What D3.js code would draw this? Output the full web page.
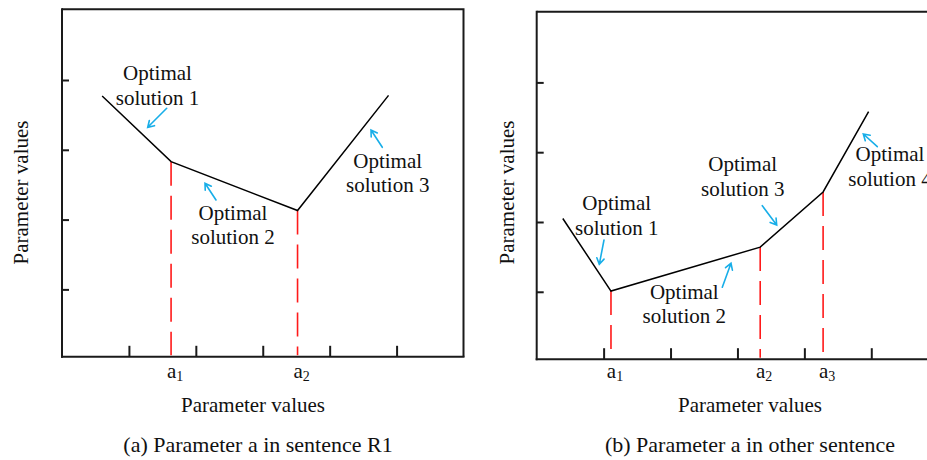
<!DOCTYPE html>
<html>
<head>
<meta charset="utf-8">
<script src="https://cdn.jsdelivr.net/npm/d3@7"></script>
<style>
  html, body { margin: 0; padding: 0; background: #fff; }
  svg { display: block; }
</style>
</head>
<body>
<svg id="chart" width="927" height="460"></svg>
<script>
// ---------------- DATA ----------------
const xTicks = [1, 2, 3, 4, 5];
const yTicks = [1, 2, 3, 4];

// Panel (a): Parameter a in sentence R1
const lineA_x = [0.60, 1.63, 3.52, 4.88];
const lineA_y = [3.77, 2.83, 2.13, 3.78];
const breaksA_x = [1.63, 3.52];
const breaksA_y = [2.83, 2.13];
const breaksA_label = ["1", "2"];
const notesA = ["Optimal solution 1", "Optimal solution 2", "Optimal solution 3"];

// Panel (b): Parameter a in other sentence
const lineB_x = [0.39, 1.11, 3.34, 4.28, 4.96];
const lineB_y = [2.05, 1.01, 1.64, 2.43, 3.58];
const breaksB_x = [1.11, 3.34, 4.28];
const breaksB_y = [1.01, 1.64, 2.43];
const breaksB_label = ["1", "2", "3"];
const notesB = ["Optimal solution 1", "Optimal solution 2", "Optimal solution 3", "Optimal solution 4"];

const axisTitle = "Parameter values";
const captions = ["(a) Parameter a in sentence R1", "(b) Parameter a in other sentence"];

// ---------------- LAYOUT ----------------
const FONT = "'Liberation Serif','Times New Roman',Times,serif";
const W = 401.5, H = 347.5;
const BLUE = "#18aee8";

const panels = [
  {
    ox: 62, oy: 9.3,
    lx: lineA_x, ly: lineA_y, bx: breaksA_x, by: breaksA_y, bl: breaksA_label,
    notes: notesA,
    notePos: [[157.5, 80], [233, 219.7], [387.7, 167.7]],
    arrows: [[166.7,108.3,147.7,127.3],[216,200,205,183.3],[382.3,147.3,371,130]],
    xTitle: [253, 412], caption: [258, 452], yTitle: [28, 192.5]
  },
  {
    ox: 536.7, oy: 11.7,
    lx: lineB_x, ly: lineB_y, bx: breaksB_x, by: breaksB_y, bl: breaksB_label,
    notes: notesB,
    notePos: [[616.7, 210.3], [684.3, 298.7], [742.7, 171.3], [890, 161.3]],
    arrows: [[604,240,599.3,264.3],[722.3,287.3,731,263.3],[762.3,205.7,776.7,225],[877.3,146.7,863.3,134]],
    xTitle: [750, 412], caption: [750, 452], yTitle: [514, 192.5]
  }
];

const svg = d3.select("#chart");

panels.forEach((p, pi) => {
  const x = d3.scaleLinear().domain([0, 6]).range([0, W]);
  const y = d3.scaleLinear().domain([0.034, 5.013]).range([H, 0]);
  const g = svg.append("g").attr("transform", `translate(${p.ox},${p.oy})`);

  // frame top & right
  g.append("path")
    .attr("d", `M0,0H${W}V${H}`)
    .attr("fill", "none").attr("stroke", "#1a1a1a").attr("stroke-width", 2);

  // axes (ticks inward, no labels)
  const ax = g.append("g").attr("transform", `translate(0,${H})`)
    .call(d3.axisBottom(x).tickValues(xTicks).tickSizeInner(-11).tickSizeOuter(0).tickFormat(""));
  const ay = g.append("g")
    .call(d3.axisLeft(y).tickValues(yTicks).tickSizeInner(-7).tickSizeOuter(0).tickFormat(""));
  [ax, ay].forEach(a => {
    a.select(".domain").attr("stroke", "#1a1a1a").attr("stroke-width", 2);
    a.selectAll(".tick line").attr("stroke", "#1a1a1a").attr("stroke-width", 2);
  });
  ax.select(".domain").attr("d", `M-1,0H${W + 1}`);
  ay.select(".domain").attr("d", `M0,-1V${H + 1}`);

  // red dashed lines at break points
  const br = p.bx.map((v, i) => ({ x: v, y: p.by[i], l: p.bl[i] }));
  g.selectAll(".brk").data(br).enter().append("line")
    .attr("x1", d => x(d.x)).attr("x2", d => x(d.x))
    .attr("y1", d => y(d.y)).attr("y2", H - 1.5)
    .attr("stroke", "#ff1a1a").attr("stroke-width", 1.6)
    .attr("stroke-dasharray", "24,10");

  // polyline
  const pts = p.lx.map((v, i) => [v, p.ly[i]]);
  g.append("path")
    .attr("d", d3.line().x(d => x(d[0])).y(d => y(d[1]))(pts))
    .attr("fill", "none").attr("stroke", "#000").attr("stroke-width", 1.5)
    .attr("stroke-linejoin", "miter");

  // break labels a_i
  const lab = g.selectAll(".blab").data(br).enter().append("text")
    .attr("x", d => x(d.x) + 4).attr("y", 378 - p.oy)
    .attr("text-anchor", "middle")
    .attr("font-family", FONT).attr("font-size", 21).attr("fill", "#111");
  lab.append("tspan").text("a");
  lab.append("tspan").attr("font-size", 14).attr("dy", 3).text(d => d.l);

  // annotations
  p.notes.forEach((t, i) => {
    const words = t.split(" ");
    const l1 = words[0], l2 = words.slice(1).join(" ");
    const [cx, by] = p.notePos[i];
    const tx = svg.append("text")
      .attr("font-family", FONT).attr("font-size", 21).attr("fill", "#111")
      .attr("text-anchor", "middle");
    tx.append("tspan").attr("x", cx).attr("y", by).text(l1);
    tx.append("tspan").attr("x", cx).attr("y", by + 24.5).text(l2);
  });

  // arrows
  p.arrows.forEach(a => {
    const [x1, y1, x2, y2] = a;
    const ang = Math.atan2(y2 - y1, x2 - x1);
    const hl = 7, ha = 0.55;
    const hx1 = x2 - hl * Math.cos(ang - ha), hy1 = y2 - hl * Math.sin(ang - ha);
    const hx2 = x2 - hl * Math.cos(ang + ha), hy2 = y2 - hl * Math.sin(ang + ha);
    svg.append("path")
      .attr("d", `M${x1},${y1}L${x2},${y2}M${hx1},${hy1}L${x2},${y2}L${hx2},${hy2}`)
      .attr("fill", "none").attr("stroke", BLUE).attr("stroke-width", 1.6)
      .attr("stroke-linecap", "round").attr("stroke-linejoin", "miter");
  });

  // axis titles
  svg.append("text")
    .attr("x", p.xTitle[0]).attr("y", p.xTitle[1])
    .attr("text-anchor", "middle")
    .attr("font-family", FONT).attr("font-size", 21).attr("fill", "#111")
    .text(axisTitle);
  svg.append("text")
    .attr("transform", `translate(${p.yTitle[0]},${p.yTitle[1]}) rotate(-90)`)
    .attr("text-anchor", "middle")
    .attr("font-family", FONT).attr("font-size", 21).attr("fill", "#111")
    .text(axisTitle);

  // caption
  svg.append("text")
    .attr("x", p.caption[0]).attr("y", p.caption[1])
    .attr("text-anchor", "middle")
    .attr("font-family", FONT).attr("font-size", 22).attr("fill", "#111")
    .text(captions[pi]);
});
</script>
</body>
</html>
